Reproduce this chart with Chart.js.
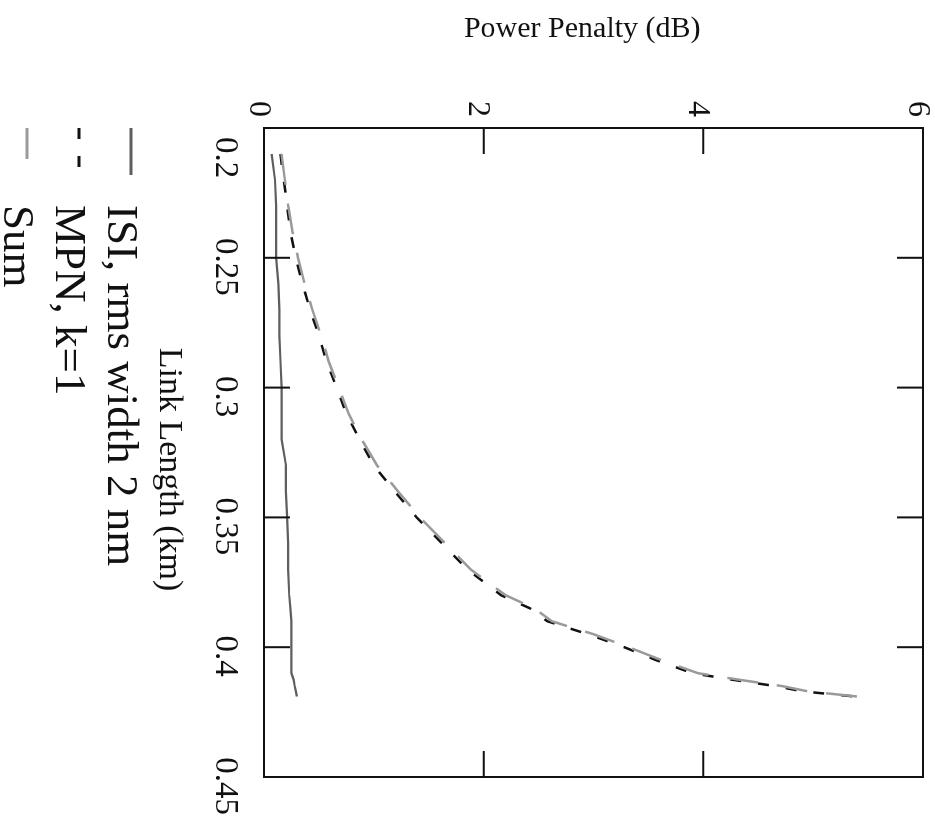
<!DOCTYPE html>
<html>
<head>
<meta charset="utf-8">
<title>Power penalty vs link length</title>
<script src="https://cdn.jsdelivr.net/npm/chart.js@4.4.0/dist/chart.umd.min.js"></script>
<style>
  html, body { margin: 0; padding: 0; background: #fff; overflow: hidden; }
  /* plot is laid out upright, then turned a quarter turn clockwise */
  #turn {
    position: absolute;
    left: 0;
    top: 0;
    width: 825px;
    height: 935px;
    transform-origin: 0 0;
    transform: translate(935px, 0) rotate(90deg);
  }
</style>
</head>
<body>
<div id="turn"><canvas id="penalty" width="825" height="935"></canvas></div>
<script>
// ------- Data -------
const lengthKm = [0.21, 0.22, 0.23, 0.24, 0.25, 0.26, 0.27, 0.28, 0.29, 0.30,
  0.31, 0.32, 0.33, 0.34, 0.35, 0.36, 0.37, 0.38, 0.385, 0.39,
  0.395, 0.40, 0.405, 0.41, 0.4125, 0.415, 0.417, 0.419];
const isiDb = [0.07, 0.10, 0.11, 0.11, 0.11, 0.13, 0.14, 0.14, 0.15, 0.16,
  0.16, 0.16, 0.20, 0.20, 0.21, 0.22, 0.22, 0.23, 0.24, 0.25,
  0.25, 0.25, 0.25, 0.25, 0.27, 0.28, 0.29, 0.30];
const mpnDb = [0.15, 0.18, 0.21, 0.24, 0.29, 0.35, 0.42, 0.50, 0.57, 0.66,
  0.75, 0.87, 1.00, 1.19, 1.39, 1.62, 1.85, 2.16, 2.42, 2.58,
  2.95, 3.28, 3.57, 3.90, 4.26, 4.66, 4.90, 5.38];
const sumDb = [0.16, 0.19, 0.22, 0.26, 0.31, 0.37, 0.44, 0.52, 0.59, 0.68,
  0.77, 0.89, 1.03, 1.22, 1.42, 1.65, 1.88, 2.20, 2.46, 2.62,
  3.00, 3.32, 3.62, 3.95, 4.32, 4.72, 4.95, 5.40];

const lengthTicks = [0.2, 0.25, 0.3, 0.35, 0.4, 0.45];
const penaltyTicks = [0, 2, 4, 6];
const seriesNames = ["ISI, rms width 2 nm", "MPN, k=1", "Sum"];

Chart.defaults.font.family = '"Liberation Serif", "Times New Roman", serif';
Chart.defaults.color = "#111";

function points(values) {
  return lengthKm.map((x, i) => ({ x: x, y: values[i] }));
}

// ------- Frame + inward ticks on all four sides -------
const frameTicks = {
  id: "frameTicks",
  afterDatasetsDraw(chart) {
    const { ctx, chartArea: a, scales } = chart;
    const len = 26;
    ctx.save();
    ctx.strokeStyle = "#111";
    ctx.lineWidth = 2;
    ctx.strokeRect(a.left, a.top, a.right - a.left, a.bottom - a.top);
    ctx.beginPath();
    lengthTicks.forEach((v) => {
      const x = scales.x.getPixelForValue(v);
      ctx.moveTo(x, a.bottom);
      ctx.lineTo(x, a.bottom - len);
      ctx.moveTo(x, a.top);
      ctx.lineTo(x, a.top + len);
    });
    penaltyTicks.forEach((v) => {
      const y = scales.y.getPixelForValue(v);
      ctx.moveTo(a.left, y);
      ctx.lineTo(a.left + len, y);
      ctx.moveTo(a.right, y);
      ctx.lineTo(a.right - len, y);
    });
    ctx.stroke();
    ctx.restore();
  },
};

// ------- Legend: one entry per row under the axis title -------
const stackedLegend = {
  id: "stackedLegend",
  afterDraw(chart) {
    const { ctx, chartArea: a } = chart;
    const top = chart.scales.x.bottom + 9;
    ctx.save();
    ctx.font = '45px "Liberation Serif", "Times New Roman", serif';
    ctx.fillStyle = "#111";
    ctx.textBaseline = "alphabetic";
    chart.data.datasets.forEach((ds, i) => {
      const y = top + i * 52;
      ctx.strokeStyle = ds.borderColor;
      ctx.lineWidth = 3;
      ctx.setLineDash(ds.borderDash || []);
      ctx.beginPath();
      ctx.moveTo(a.left, y);
      ctx.lineTo(a.left + 47, y);
      ctx.stroke();
      ctx.setLineDash([]);
      ctx.fillText(ds.label, a.left + 77, y + 23);
    });
    ctx.restore();
  },
};

new Chart("penalty", {
  type: "line",
  data: {
    datasets: [
      {
        label: seriesNames[0],
        data: points(isiDb),
        borderColor: "#5e5e5e",
        borderWidth: 2.2,
      },
      {
        label: seriesNames[1],
        data: points(mpnDb),
        borderColor: "#111",
        borderDash: [11, 17],
        borderWidth: 2.5,
      },
      {
        label: seriesNames[2],
        data: points(sumDb),
        borderColor: "#9a9a9a",
        borderDash: [31, 19],
        borderWidth: 2.5,
        order: -1,
      },
    ],
  },
  options: {
    responsive: false,
    animation: false,
    devicePixelRatio: 1,
    layout: { padding: { top: 12, right: 48, bottom: 140, left: 0 } },
    elements: { point: { radius: 0 }, line: { tension: 0 } },
    plugins: { legend: { display: false }, tooltip: { enabled: false } },
    scales: {
      x: {
        type: "linear",
        min: 0.2,
        max: 0.45,
        grid: { display: false },
        border: { display: false },
        afterBuildTicks: (s) => {
          s.ticks = lengthTicks.map((v) => ({ value: v }));
        },
        afterFit: (s) => {
          s.height = 124;
          s.paddingLeft = 0;
          s.paddingRight = 0;
        },
        ticks: {
          font: { size: 33 },
          padding: 12,
          labelOffset: 9,
          maxRotation: 0,
          autoSkip: false,
          // first label sits a little further in, clear of the corner
          callback: (v, i) => (i === 0 ? "     " : "") + String(v),
        },
        title: {
          display: true,
          text: "    Link Length (km)",
          font: { size: 34 },
          padding: { top: 0, bottom: 9 },
        },
      },
      y: {
        type: "linear",
        min: 0,
        max: 6,
        grid: { display: false },
        border: { display: false },
        afterBuildTicks: (s) => {
          s.ticks = penaltyTicks.map((v) => ({ value: v }));
        },
        afterFit: (s) => {
          s.width = 128;
          s.paddingTop = 0;
          s.paddingBottom = 0;
        },
        ticks: {
          font: { size: 32 },
          padding: 3,
          labelOffset: 6,
          callback: (v) => String(v),
        },
        title: {
          display: true,
          text: "Power Penalty (dB)   ",
          font: { size: 30 },
          padding: { top: 11, bottom: 0 },
        },
      },
    },
  },
  plugins: [frameTicks, stackedLegend],
});
</script>
</body>
</html>
